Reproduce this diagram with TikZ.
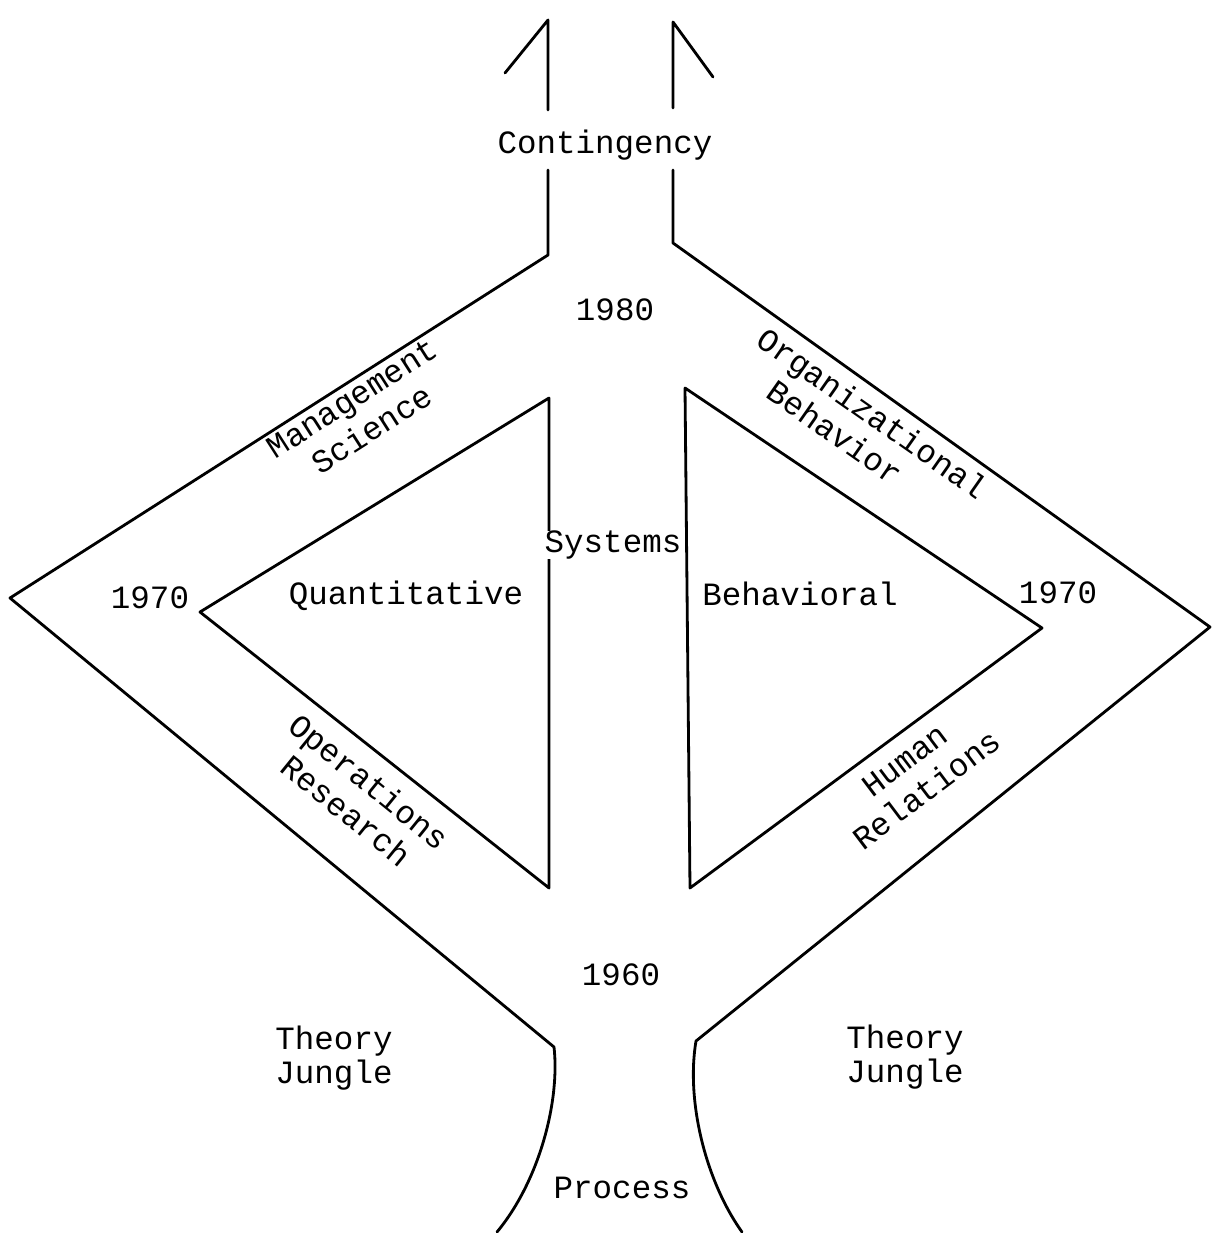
\documentclass[tikz,border=0pt]{standalone}
\usepackage{fontspec}
\setmonofont{Liberation Mono}
\newcommand{\linew}{1.6pt}
\newcommand{\typesize}{\fontsize{18.5}{19}\selectfont}
\newcommand{\slantsize}{\fontsize{18.5}{21}\selectfont}

\begin{document}
\begin{tikzpicture}[x=0.2mm,y=-0.2mm]
        \useasboundingbox (0,0) rectangle (1214,1233);
        \begin{scope}
        %\draw[help lines, step=50] (0,0) grid (1214,1233);
            \tikzset{outline/.style = {line width=\linew, line cap=round, line join=round}}
            \tikzset{txt/.style = {font=\ttfamily\typesize, inner sep=1pt, align=center}}
            \tikzset{slanttxt/.style = {txt, font=\ttfamily\slantsize}}

            \coordinate (al) at (505,73);
            \coordinate (tl) at (548,20);
            \coordinate (ml) at (548,110);
            \coordinate (nl) at (548,170);
            \coordinate (sl) at (548,255);
            \coordinate (wl) at (10,598);
            \coordinate (bl) at (554,1047);
            \coordinate (el) at (497,1232);

            \coordinate (ar) at (713,77);
            \coordinate (tr) at (673,22);
            \coordinate (mr) at (673,108);
            \coordinate (nr) at (673,170);
            \coordinate (sr) at (673,243);
            \coordinate (wr) at (1210,627);
            \coordinate (br) at (696,1041);
            \coordinate (er) at (742,1232);

            \coordinate (qt) at (549,398);
            \coordinate (ql) at (200,612);
            \coordinate (qb) at (549,888);

            \coordinate (bt) at (685,388);
            \coordinate (brt) at (1042,628);
            \coordinate (bb) at (690,888);

            \draw[outline] (al) -- (tl) -- (ml);
            \draw[outline] (nl) -- (sl) -- (wl) -- (bl)
                .. controls (560,1100) and (540,1180) .. (el);
            \draw[outline] (ar) -- (tr) -- (mr);
            \draw[outline] (nr) -- (sr) -- (wr) -- (br)
                .. controls (686,1100) and (705,1180) .. (er);

            \draw[outline] (qt) -- (ql) -- (qb) -- cycle;
            \draw[outline] (bt) -- (brt) -- (bb) -- cycle;

            \node[txt] (cont) at (605,145) {Contingency};
            \node[txt] (y80) at (615,310) {1980};
            \node[txt, fill=white, inner sep=0pt] (sys) at (613,545) {Systems};
            \node[txt] (y70l) at (150,598) {1970};
            \node[txt] (quant) at (406,596) {Quantitative};
            \node[txt] (behav) at (800,594) {Behavioral};
            \node[txt] (y70r) at (1058,593) {1970};
            \node[txt] (y60) at (621,975) {1960};
            \node[txt] (jungl) at (334,1058) {Theory\\Jungle};
            \node[txt] (jungr) at (905,1057) {Theory\\Jungle};
            \node[txt] (proc) at (622,1188) {Process};

            \node[slanttxt, rotate=32.6] (mgmt) at (362,414) {Management\\Science};
            \node[slanttxt, rotate=-35, align=left] (orgb) at (862,428) {Organizational\\\phantom{Or}Behavior};
            \node[slanttxt, rotate=-39] (opres) at (358,796) {Operations\\Research};
            \node[slanttxt, rotate=37] (humrel) at (916,775) {Human\\Relations};
        \end{scope}
    \end{tikzpicture}
\end{document}
